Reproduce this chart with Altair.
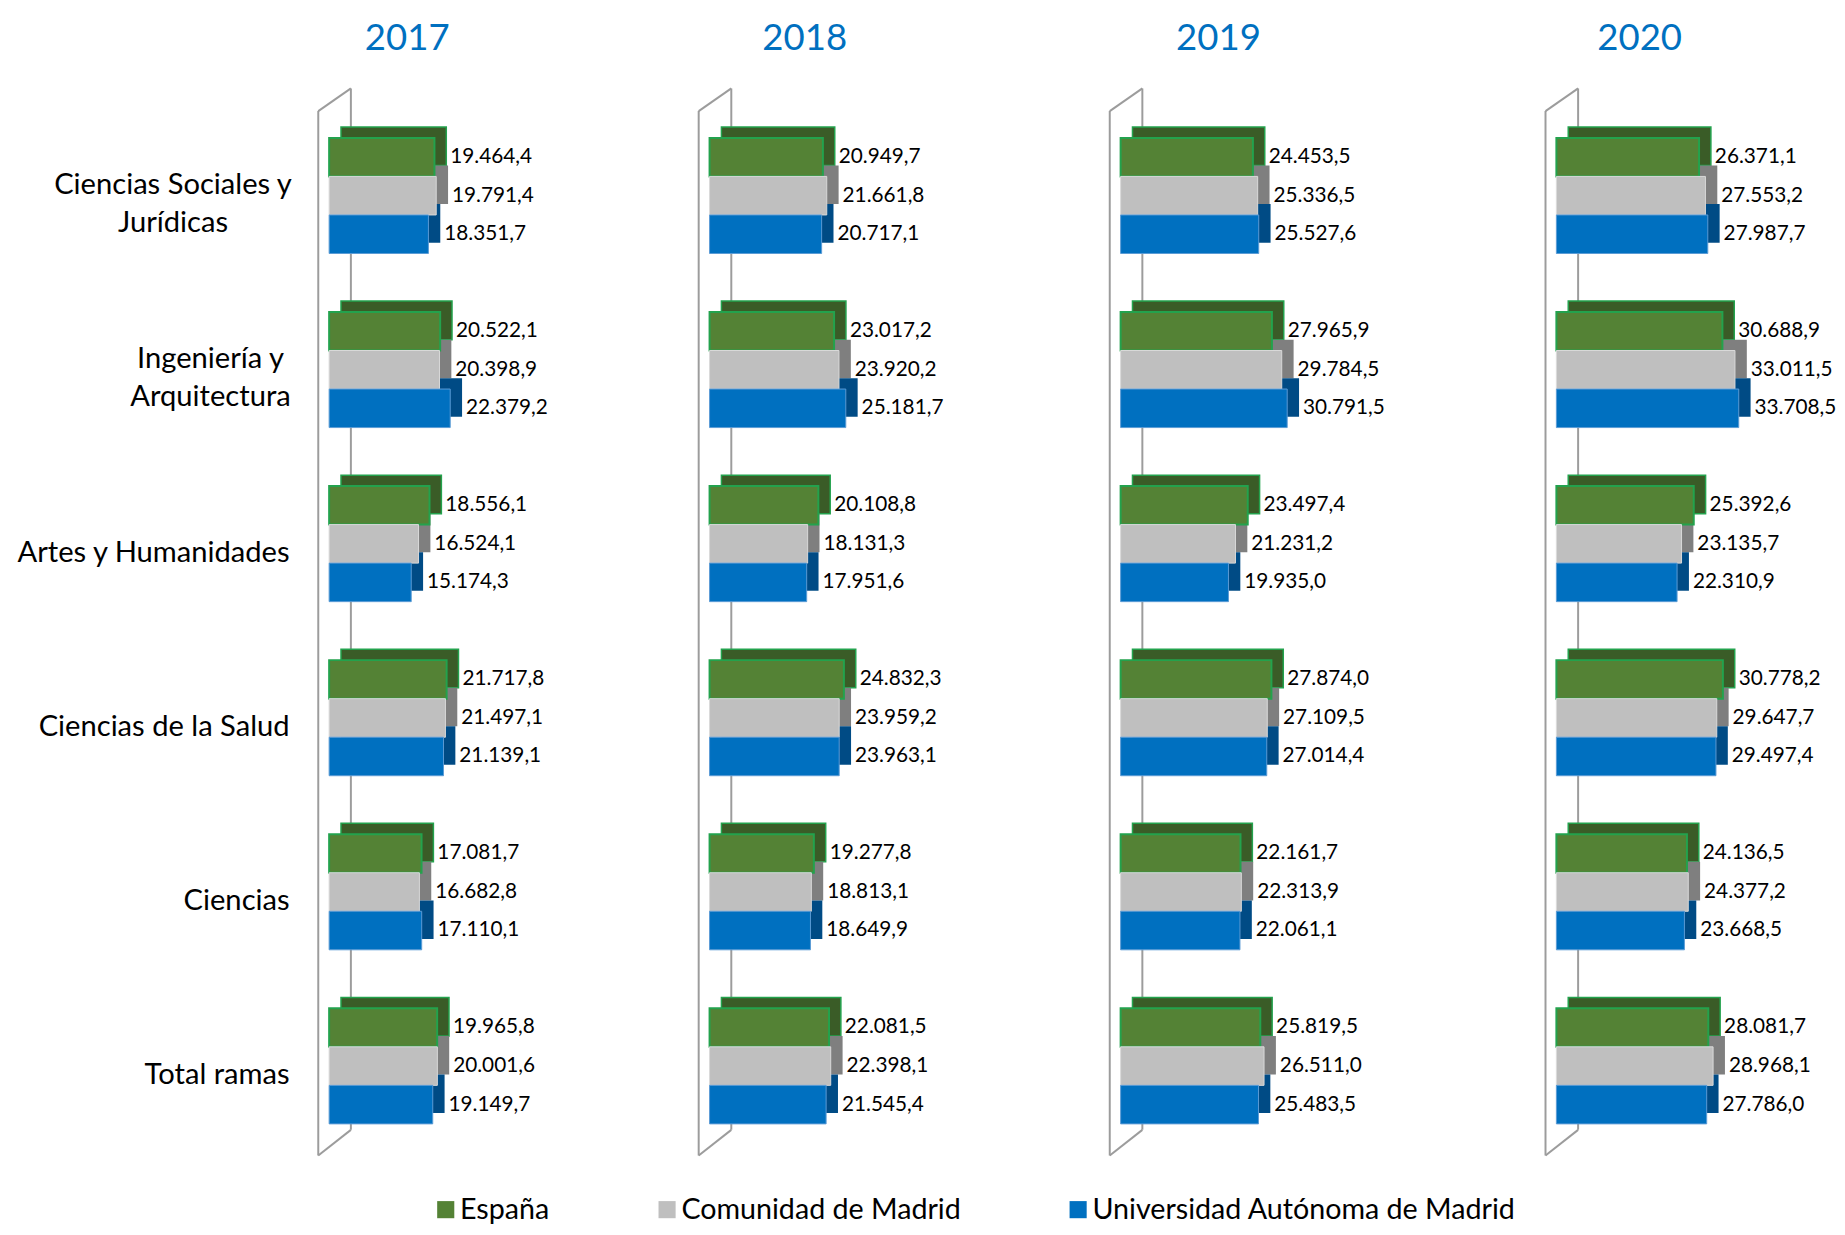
import altair as alt
import pandas as pd

years = ["2017", "2018", "2019", "2020"]
categories = [
    "Ciencias Sociales y\nJurídicas",
    "Ingeniería y\nArquitectura",
    "Artes y Humanidades",
    "Ciencias de la Salud",
    "Ciencias",
    "Total ramas",
]
series = ["España", "Comunidad de Madrid", "Universidad Autónoma de Madrid"]

espana = {
    "2017": [19464.4, 20522.1, 18556.1, 21717.8, 17081.7, 19965.8],
    "2018": [20949.7, 23017.2, 20108.8, 24832.3, 19277.8, 22081.5],
    "2019": [24453.5, 27965.9, 23497.4, 27874.0, 22161.7, 25819.5],
    "2020": [26371.1, 30688.9, 25392.6, 30778.2, 24136.5, 28081.7],
}
madrid = {
    "2017": [19791.4, 20398.9, 16524.1, 21497.1, 16682.8, 20001.6],
    "2018": [21661.8, 23920.2, 18131.3, 23959.2, 18813.1, 22398.1],
    "2019": [25336.5, 29784.5, 21231.2, 27109.5, 22313.9, 26511.0],
    "2020": [27553.2, 33011.5, 23135.7, 29647.7, 24377.2, 28968.1],
}
uam = {
    "2017": [18351.7, 22379.2, 15174.3, 21139.1, 17110.1, 19149.7],
    "2018": [20717.1, 25181.7, 17951.6, 23963.1, 18649.9, 21545.4],
    "2019": [25527.6, 30791.5, 19935.0, 27014.4, 22061.1, 25483.5],
    "2020": [27987.7, 33708.5, 22310.9, 29497.4, 23668.5, 27786.0],
}


def es_fmt(v):
    s = f"{v:,.1f}"
    return s.replace(",", "X").replace(".", ",").replace("X", ".")


rows = []
for yr in years:
    for sname, src in zip(series, [espana, madrid, uam]):
        for cat, v in zip(categories, src[yr]):
            rows.append({"year": yr, "cat": cat, "series": sname, "value": v, "label": es_fmt(v)})
df = pd.DataFrame(rows)

# styles
FONT = "Lato"
main_colors = ["#548235", "#BFBFBF", "#0070C0"]
dark_colors = ["#3A5C27", "#7F7F7F", "#004B85"]
stroke_colors = ["#23A24D", "#D9D9D9", "#5B9BD5"]
stroke_widths = [2, 1, 1]
bar_offsets = [-39, 0, 39]
BAR_H = 39
WALL = "#9C9C9C"
PLOT_H = 1080

panel_widths = [385, 416, 441, 276]
title_dx = [-96.5, -94.7, -104.5, -36.7]

yscale = alt.Scale(domain=categories, paddingInner=0.335, paddingOuter=0.2327, align=0.61)
xscale = alt.Scale(domain=[0, 40000], range=[17, 236])
color_scale = alt.Scale(domain=series, range=main_colors)

legend = alt.Legend(
    title=None, orient="none", legendX=120.5, legendY=1120, direction="horizontal",
    symbolType="square", symbolSize=300, labelFont=FONT, labelFontSize=29,
    labelColor="black", columnPadding=104, labelOffset=0, padding=0,
    symbolStrokeWidth=0, labelLimit=700,
)


def wall_rule(x1, y1, x2, y2):
    return alt.Chart(pd.DataFrame({"k": [0]})).mark_rule(color=WALL, strokeWidth=2).encode(
        x=alt.value(x1), y=alt.value(y1), x2=alt.value(x2), y2=alt.value(y2)
    )


def panel(i, yr):
    d = df[df.year == yr]
    base = alt.Chart(d)
    y = alt.Y("cat:N", scale=yscale, axis=None, sort=categories)
    x = alt.X("value:Q", scale=xscale, axis=None)

    walls = [
        wall_rule(6, 23, 6, PLOT_H),
        wall_rule(6, 23, 39, 0),
        wall_rule(39, 0, 39, PLOT_H - 26),
        wall_rule(39, PLOT_H - 26, 6, PLOT_H),
    ]

    backs, fronts, labels = [], [], []
    for k, s in enumerate(series):
        sub = base.transform_filter(alt.datum.series == s)
        backs.append(
            sub.mark_bar(
                height=BAR_H, xOffset=12, yOffset=bar_offsets[k] - 11,
                fill=dark_colors[k],
                stroke=stroke_colors[0] if k == 0 else dark_colors[k],
                strokeWidth=1.5 if k == 0 else 0,
            ).encode(x=x, y=y)
        )
        fronts.append(
            sub.mark_bar(
                height=BAR_H, yOffset=bar_offsets[k],
                stroke=stroke_colors[k], strokeWidth=stroke_widths[k],
            ).encode(x=x, y=y, color=alt.Color("series:N", scale=color_scale, legend=legend))
        )
        labels.append(
            sub.mark_text(
                align="left", baseline="middle", dx=16, dy=bar_offsets[k],
                font=FONT, fontSize=21, color="black",
            ).encode(x=x, y=y, text="label:N")
        )
    layers = walls + backs + fronts + labels

    if i == 0:
        single = [c for c in categories if "\n" not in c]
        multi = [c for c in categories if "\n" in c]
        layers.append(
            alt.Chart(pd.DataFrame({"cat": single})).mark_text(
                align="right", baseline="middle", dy=9, font=FONT, fontSize=29.5, color="black"
            ).encode(y=y, x=alt.value(-23), text="cat:N")
        )
        centers = [-23 - 118, -23 - 80]
        for c, cx in zip(multi, centers):
            layers.append(
                alt.Chart(pd.DataFrame({"cat": [c]})).mark_text(
                    align="center", baseline="middle", dy=-11, font=FONT, fontSize=29.5,
                    color="black", lineBreak="\n", lineHeight=39,
                ).encode(y=y, x=alt.value(cx), text="cat:N")
            )

    return alt.layer(*layers).properties(
        width=panel_widths[i], height=PLOT_H,
        title=alt.TitleParams(
            text=yr, font=FONT, fontSize=37, fontWeight="normal", color="#0070C0",
            anchor="middle", frame="group", dx=title_dx[i], offset=30,
        ),
    )


chart = alt.hconcat(*[panel(i, yr) for i, yr in enumerate(years)], spacing=0, bounds="flush").properties(
    padding={"left": 7, "top": 5, "right": 0, "bottom": 0}
).configure_view(stroke=None)

chart.save("out.html", embed_options={"renderer": "svg", "actions": False})
